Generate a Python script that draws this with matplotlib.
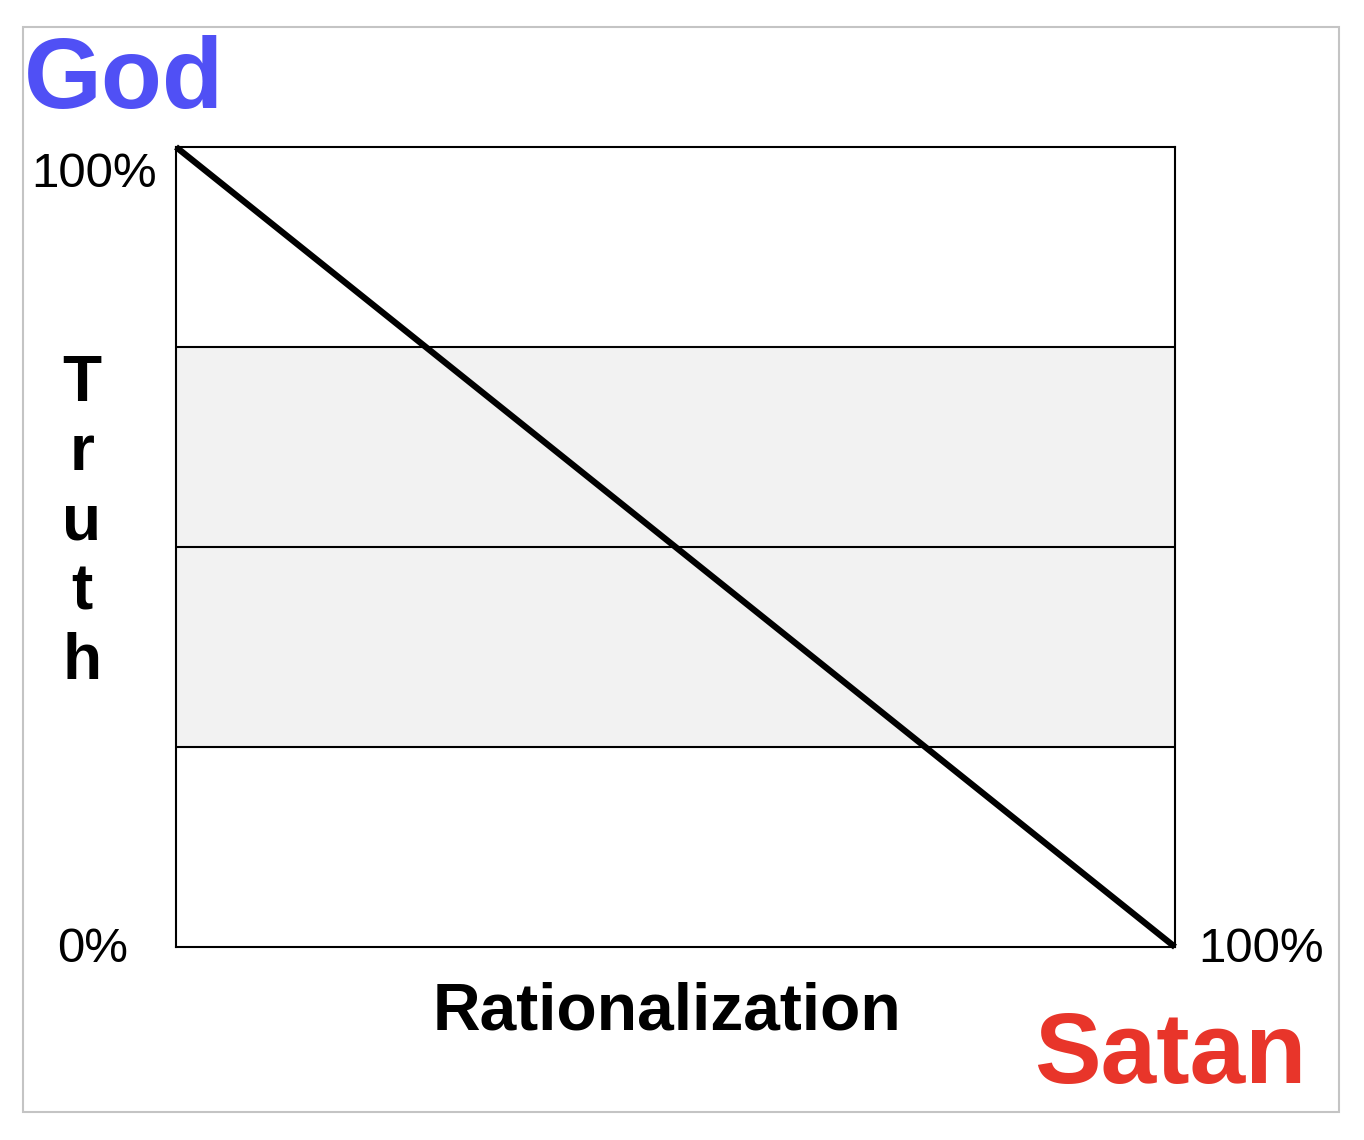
import matplotlib.pyplot as plt
from matplotlib.patches import Rectangle

# data
rationalization = [0, 100]
truth = [100, 0]
band_edges = [25, 50, 75]
band_color = "#f2f2f2"

top_label = "God"
bottom_label = "Satan"
x_title = "Rationalization"
y_title = "Truth"

plt.rcParams['font.family'] = ['Liberation Sans', 'DejaVu Sans']

W, H = 1364, 1140
fig = plt.figure(figsize=(W / 100, H / 100), dpi=100)

def fx(px):
    return px / W

def fy(py):
    return 1 - py / H

# outer gray frame
fig.patches.append(Rectangle((fx(22.5), fy(1112)), fx(1339) - fx(22.5), fy(27) - fy(1112),
                             transform=fig.transFigure, fill=False, edgecolor="#c4c4c4", lw=1.5))

ax = fig.add_axes([fx(176), fy(947), fx(1175) - fx(176), fy(147) - fy(947)])
ax.set_xlim(0, 100)
ax.set_ylim(0, 100)
ax.axhspan(band_edges[0], band_edges[-1], color=band_color, zorder=0)
for y in band_edges:
    ax.axhline(y, color="black", lw=1.5, zorder=1)
ax.plot(rationalization, truth, color="black", lw=4.5, solid_capstyle="butt", zorder=3, clip_on=False)
for s in ax.spines.values():
    s.set_linewidth(1.5)
ax.set_xticks([])
ax.set_yticks([])

# corner labels
fig.text(fx(157), fy(187), "100%", ha="right", va="baseline", fontsize=35.5)
fig.text(fx(128), fy(962), "0%", ha="right", va="baseline", fontsize=35.5)
fig.text(fx(1198), fy(962), "100%", ha="left", va="baseline", fontsize=35.5)

# titles
fig.text(fx(24), fy(108), top_label, ha="left", va="baseline", fontsize=72,
         fontweight="bold", color="#5050f5")
fig.text(fx(1306), fy(1083), bottom_label, ha="right", va="baseline", fontsize=72,
         fontweight="bold", color="#e8352a")
fig.text(fx(667), fy(1030), x_title, ha="center", va="baseline", fontsize=47.5,
         fontweight="bold")
for i, ch in enumerate(y_title):
    fig.text(fx(82), fy(401 + i * 69.5), ch, ha="center", va="baseline", fontsize=46,
             fontweight="bold")

fig.savefig("out.png", dpi=100, facecolor="white")
